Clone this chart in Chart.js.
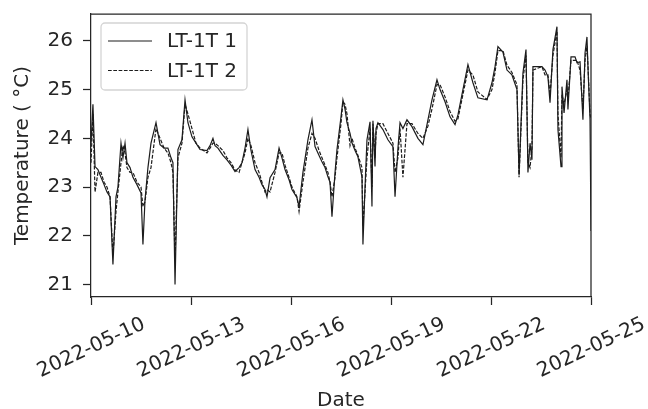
<!DOCTYPE html>
<html><head><meta charset="utf-8">
<script src="https://cdn.jsdelivr.net/npm/chart.js@4.4.0/dist/chart.umd.min.js"></script>
<style>html,body{margin:0;padding:0;background:#fff}#wrap{width:648px;height:409px;position:relative}</style>
</head><body><div id="wrap"><canvas id="c" width="648" height="409"></canvas></div>
<script>
// hours since 2022-05-10 00:00
const hours = [0,1.4,2.9,5.0,7.2,9.4,11.5,13.7,15.8,18.0,19.4,21.6,23.0,24.5,25.9,28.1,30.2,33.1,36.0,37.4,
38.9,41.0,43.2,46.8,49.7,52.6,55.4,57.6,59.0,60.5,62.6,65.5,67.7,69.8,72.7,75.6,78.5,83.5,85.7,87.8,
89.3,91.4,95.0,97.9,100.8,103.7,106.6,108.7,110.9,113.0,115.2,118.1,121.0,123.1,125.3,126.7,128.9,132.5,135.4,137.5,
139.7,142.6,144.7,148.3,149.8,152.6,156.2,159.1,161.3,164.2,166.3,168.5,170.6,172.1,173.5,175.7,177.1,180.0,181.4,182.9,
184.3,186.5,187.9,190.1,192.2,195.1,195.8,197.3,198.7,200.9,202.3,203.0,204.5,205.2,206.6,210.2,213.8,217.4,218.9,221.0,
222.5,224.6,227.5,231.1,235.4,239.0,242.6,245.5,249.1,251.3,254.9,258.5,262.1,264.2,267.8,271.4,275.0,278.6,285.1,288.7,
290.9,293.0,296.6,299.5,303.1,306.7,308.2,311.0,313.2,314.6,316.1,317.5,318.2,324.7,326.9,329.0,330.5,332.6,335.5,336.2,
338.4,339.1,340.6,342.7,343.4,345.6,348.5,349.9,352.1,354.2,355.7,357.1,357.8,359.3,360];
const lt1 = [23.9,24.7,23.42,23.36,23.2,23.05,22.9,22.8,21.41,22.8,23.0,23.9,23.6,23.9,23.5,23.4,23.2,23.05,22.88,21.82,
22.74,23.4,23.9,24.32,23.87,23.8,23.8,23.6,23.5,21.0,23.77,23.97,24.79,24.32,24.03,23.9,23.77,23.75,23.85,24.0,
23.85,23.8,23.65,23.56,23.45,23.32,23.4,23.5,23.8,24.18,23.75,23.36,23.2,23.05,22.95,22.8,23.19,23.36,23.8,23.6,
23.36,23.15,22.95,22.78,22.6,23.3,23.97,24.38,23.83,23.65,23.52,23.4,23.21,23.1,22.39,23.3,23.77,24.44,24.79,24.6,
24.32,24.1,23.91,23.75,23.62,23.21,21.82,23.0,23.97,24.34,22.6,24.36,23.42,24.2,24.32,24.18,23.97,23.83,22.8,23.8,
24.32,24.2,24.38,24.24,24.0,23.87,24.38,24.79,25.2,25.0,24.75,24.44,24.28,24.48,25.0,25.51,25.14,24.83,24.79,25.14,
25.47,25.88,25.77,25.4,25.3,25.0,23.25,25.34,25.82,23.3,23.9,23.56,25.47,25.47,25.4,25.26,24.73,25.82,26.29,24.18,
23.42,25.06,24.52,25.2,24.59,25.67,25.67,25.55,25.57,24.38,25.75,26.08,25.47,24.38,22.1];
const lt2 = [23.5,24.5,22.9,23.3,23.3,23.1,23.0,22.8,21.6,22.5,22.9,23.5,23.85,23.7,23.4,23.3,23.3,23.1,23.0,22.6,
22.7,23.2,23.4,24.2,24.0,23.8,23.7,23.5,23.3,21.5,23.6,23.9,24.7,24.5,24.2,23.9,23.8,23.7,23.8,23.9,
23.9,23.85,23.75,23.6,23.5,23.35,23.3,23.5,23.7,24.0,23.85,23.5,23.3,23.1,22.9,22.95,22.9,23.3,23.7,23.7,
23.45,23.2,23.0,22.8,22.5,23.1,23.8,24.1,24.0,23.75,23.6,23.45,23.3,23.1,22.8,23.2,23.6,24.3,24.75,24.7,
24.5,23.85,24.0,23.8,23.65,23.4,22.2,22.9,23.6,24.2,23.0,24.3,23.6,24.1,24.3,24.3,24.1,23.9,23.3,23.6,
24.2,23.2,24.3,24.3,24.1,24.0,24.25,24.6,25.1,25.1,24.85,24.55,24.35,24.4,24.9,25.4,25.3,24.95,24.8,25.0,
25.35,25.8,25.8,25.5,25.35,25.1,23.2,25.2,25.7,23.5,23.4,23.8,25.4,25.47,25.3,25.3,24.9,25.7,26.2,24.5,
23.6,24.9,24.7,25.0,24.8,25.6,25.6,25.6,25.4,24.6,25.6,25.9,25.5,24.5,24.4];
const seriesNames = ['LT-1T 1','LT-1T 2'];
const xTickLabels = ['2022-05-10','2022-05-13','2022-05-16','2022-05-19','2022-05-22','2022-05-25'];
const yTickValues = [21,22,23,24,25,26];

const FONT = 'DejaVu Sans';
const FS = 20;
const INK = '#262626';

const frame = {
  id:'frame',
  afterDraw(chart){
    const {ctx, chartArea:a} = chart;
    ctx.save();
    ctx.strokeStyle = INK; ctx.lineWidth = 1.25;
    ctx.beginPath();
    ctx.moveTo(a.left, a.top); ctx.lineTo(a.right, a.top); ctx.lineTo(a.right, a.bottom);
    ctx.stroke();
    // legend
    const x0 = a.left + 10, y0 = a.top + 9, w = 146, h = 67, r = 4;
    ctx.beginPath();
    ctx.roundRect(x0, y0, w, h, r);
    ctx.fillStyle = 'rgba(255,255,255,0.8)'; ctx.fill();
    ctx.strokeStyle = '#d4d4d4'; ctx.lineWidth = 1.3; ctx.stroke();
    chart.data.datasets.forEach((ds, i) => {
      const y = y0 + 18 + i * 29.5;
      ctx.beginPath();
      ctx.setLineDash(ds.borderDash || []);
      ctx.strokeStyle = ds.borderColor; ctx.lineWidth = ds.borderWidth;
      ctx.moveTo(x0 + 7, y); ctx.lineTo(x0 + 51, y); ctx.stroke();
      ctx.setLineDash([]);
      ctx.fillStyle = INK; ctx.font = FS + 'px "' + FONT + '"';
      ctx.textBaseline = 'middle'; ctx.textAlign = 'left';
      ctx.fillText(ds.label, x0 + 66, y + 1);
    });
    ctx.restore();
  }
};

new Chart(document.getElementById('c'), {
  type:'line',
  data:{
    labels: hours,
    datasets:[
      {label:seriesNames[0], data: hours.map((h,i)=>({x:h,y:lt1[i]})), borderColor:'#1c1c1c', borderWidth:1.2, pointRadius:0, tension:0, fill:false},
      {label:seriesNames[1], data: hours.map((h,i)=>({x:h,y:lt2[i]})), borderColor:'#1c1c1c', borderWidth:1.2, borderDash:[3.7,1.6], pointRadius:0, tension:0, fill:false}
    ]
  },
  options:{
    responsive:false, animation:false, devicePixelRatio:1,
    layout:{padding:{top:14,right:57,left:0,bottom:0}},
    plugins:{legend:{display:false}, tooltip:{enabled:false}},
    scales:{
      x:{
        type:'linear', min:0, max:360,
        afterBuildTicks: s => { s.ticks = xTickLabels.map((_,i)=>({value:i*72})); },
        afterFit: s => { s.height = 112; s.paddingLeft = 0; s.paddingRight = 0; },
        ticks:{autoSkip:false, maxRotation:25, minRotation:25, labelOffset:53, padding:7.5,
          font:{family:FONT,size:FS}, color:INK, callback:(v,i)=>xTickLabels[i]},
        grid:{drawOnChartArea:false, drawTicks:true, tickLength:8, tickColor:INK, tickWidth:1.25},
        border:{display:true, color:INK, width:1.25},
        title:{display:true, text:'Date', font:{family:FONT,size:FS,lineHeight:1}, color:INK, padding:{top:0,bottom:-2}}
      },
      y:{
        min:20.745, max:26.55,
        afterBuildTicks: s => { s.ticks = yTickValues.map(v=>({value:v})); },
        afterFit: s => { s.width = 91; s.paddingTop = 0; s.paddingBottom = 0; },
        ticks:{padding:10, font:{family:FONT,size:FS}, color:INK, callback:v=>String(v)},
        grid:{drawOnChartArea:false, drawTicks:true, tickLength:8, tickColor:INK, tickWidth:1.25},
        border:{display:true, color:INK, width:1.25},
        title:{display:true, text:'Temperature ( °C)', font:{family:FONT,size:FS}, color:INK, padding:{top:11,bottom:0}}
      }
    }
  },
  plugins:[frame]
});
</script></body></html>
